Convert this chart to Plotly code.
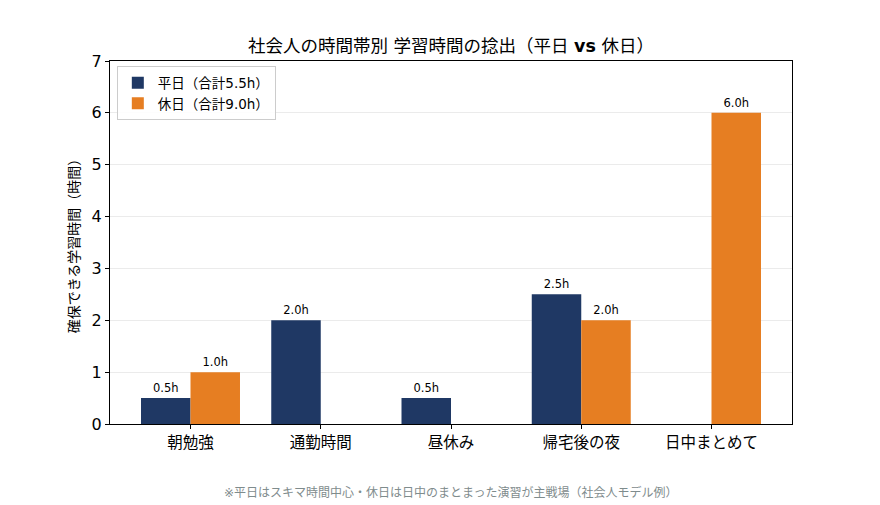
import plotly.graph_objects as go

categories = ["朝勉強", "通勤時間", "昼休み", "帰宅後の夜", "日中まとめて"]
weekday = [0.5, 2.0, 0.5, 2.5, 0.0]
holiday = [1.0, 0.0, 0.0, 2.0, 6.0]
weekday_name = "平日（合計5.5h）"
holiday_name = "休日（合計9.0h）"
y_ticks = [0, 1, 2, 3, 4, 5, 6, 7]

FONT = "DejaVu Sans, Noto Sans CJK JP, sans-serif"
NAVY = "#1f3864"
ORANGE = "#e67e22"


def labels(vals):
    return [f"{v:.1f}h" if v > 0 else "" for v in vals]


fig = go.Figure()
fig.add_trace(go.Bar(x=list(range(len(categories))), y=weekday, name=weekday_name,
                     marker=dict(color=NAVY, line=dict(width=0)),
                     text=labels(weekday), textposition="outside",
                     textfont=dict(size=11.5, color="black", family=FONT),
                     cliponaxis=False))
fig.add_trace(go.Bar(x=list(range(len(categories))), y=holiday, name=holiday_name,
                     marker=dict(color=ORANGE, line=dict(width=0)),
                     text=labels(holiday), textposition="outside",
                     textfont=dict(size=11.5, color="black", family=FONT),
                     cliponaxis=False))

fig.update_layout(
    width=880, height=505,
    margin=dict(l=110, r=88, t=61, b=81),
    paper_bgcolor="white", plot_bgcolor="white",
    font=dict(family=FONT, color="black"),
    barmode="group", bargap=0.24, bargroupgap=0,
    title=dict(text="社会人の時間帯別 学習時間の捻出（平日 <b>vs</b> 休日）",
               x=0.5, xref="paper", xanchor="center",
               y=1 - 46 / 505, yref="container", yanchor="middle",
               font=dict(size=17.5, family=FONT, color="black")),
    legend=dict(x=0.01, y=0.985, xanchor="left", yanchor="top",
                bgcolor="rgba(255,255,255,0.9)", bordercolor="#cccccc", borderwidth=1,
                font=dict(size=13.5, family=FONT), itemwidth=30, tracegroupgap=2),
    showlegend=True,
)
fig.update_xaxes(range=[-0.618, 4.618], tickmode="array",
                 tickvals=list(range(len(categories))), ticktext=categories,
                 ticks="outside", ticklen=4, tickcolor="black",
                 showline=True, linecolor="black", linewidth=1, mirror=True,
                 showgrid=False, tickfont=dict(size=15.5, family=FONT), zeroline=False)
fig.update_yaxes(range=[0, 7], tickmode="array", tickvals=y_ticks,
                 ticks="outside", ticklen=4, tickcolor="black",
                 showline=True, linecolor="black", linewidth=1, mirror=True,
                 showgrid=True, gridcolor="#ebebeb", gridwidth=1, zeroline=False,
                 tickfont=dict(size=16, family=FONT),
                 title=dict(text="確保できる学習時間（時間）", font=dict(size=14, family=FONT), standoff=8))

fig.add_annotation(text="※平日はスキマ時間中心・休日は日中のまとまった演習が主戦場（社会人モデル例）",
                   x=0.5, xref="paper", xanchor="center",
                   y=(424 - 492) / 363, yref="paper", yanchor="middle",
                   showarrow=False, font=dict(size=12, color="#7f8c8d", family=FONT))

fig.write_html("out.html")
